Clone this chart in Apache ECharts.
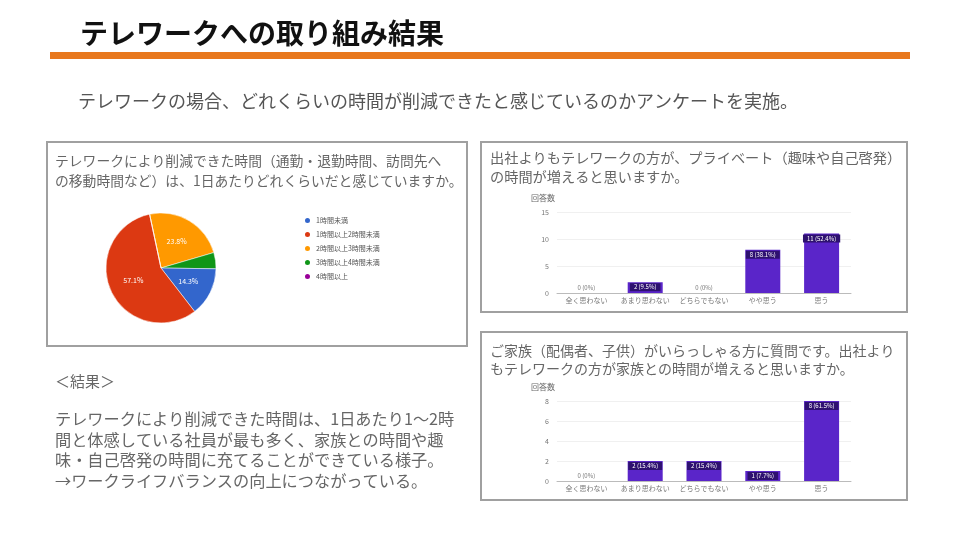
<!DOCTYPE html>
<html>
<head>
<meta charset="utf-8">
<script src="https://cdn.jsdelivr.net/npm/echarts@6/dist/echarts.min.js"></script>
<style>
html,body{margin:0;padding:0;background:#fff;}
#c{width:960px;height:540px;}
</style>
</head>
<body>
<div id="c"></div>
<script>
// ---- data ----
const pieCategories = ['1時間未満', '1時間以上2時間未満', '2時間以上3時間未満', '3時間以上4時間未満', '4時間以上'];
const pieValues = [3, 12, 5, 1, 0];
const pieColors = ['#3366cc', '#dc3912', '#ff9900', '#109618', '#990099'];
const pieDrawOrder = [2, 3, 0, 1, 4];

const barCategories = ['全く思わない', 'あまり思わない', 'どちらでもない', 'やや思う', '思う'];
const privateValues = [0, 2, 0, 8, 11];
const familyValues = [0, 2, 2, 1, 8];
const privateTicks = [0, 5, 10, 15];
const familyTicks = [0, 2, 4, 6, 8];

const titleText = 'テレワークへの取り組み結果';
const subText = 'テレワークの場合、どれくらいの時間が削減できたと感じているのかアンケートを実施。';
const pieTitle = ['テレワークにより削減できた時間（通勤・退勤時間、訪問先へ', 'の移動時間など）は、1日あたりどれくらいだと感じていますか。'];
const bar1Title = ['出社よりもテレワークの方が、プライベート（趣味や自己啓発）', 'の時間が増えると思いますか。'];
const bar2Title = ['ご家族（配偶者、子供）がいらっしゃる方に質問です。出社より', 'もテレワークの方が家族との時間が増えると思いますか。'];
const resultHead = '＜結果＞';
const resultLines = ['テレワークにより削減できた時間は、1日あたり1～2時', '間と体感している社員が最も多く、家族との時間や趣', '味・自己啓発の時間に充てることができている様子。', '→ワークライフバランスの向上につながっている。'];

const FONT = '"Noto Sans CJK JP", "Noto Sans", sans-serif';
const BAR = '#5a25c9';

function barData(vals) {
  const total = vals.reduce((a, b) => a + b, 0);
  return vals.map(v => {
    const pct = total ? (v / total * 100) : 0;
    const txt = v + ' (' + (v === 0 ? '0' : pct.toFixed(1)) + '%)';
    if (v > 0) {
      return { value: v, label: { show: true, position: 'insideTop', distance: 1, formatter: txt, color: '#fff', fontSize: 6, backgroundColor: '#2e1170', padding: [1, 4] } };
    }
    return { value: v, label: { show: true, position: 'top', distance: 2, formatter: txt, color: '#777', fontSize: 6 } };
  });
}

const pieData = pieDrawOrder.map(i => ({
  name: pieCategories[i],
  value: pieValues[i],
  itemStyle: { color: pieColors[i] }
}));

function textEl(x, y, str, size, color, weight) {
  return { type: 'text', left: x, top: y, style: { text: str, font: (weight || 'normal') + ' ' + size + 'px ' + FONT, fill: color } };
}

const graphics = [
  textEl(80, 19, titleText, 28, '#111', 'bold'),
  { type: 'rect', shape: { x: 50, y: 52, width: 860, height: 7 }, style: { fill: '#e8781e' } },
  textEl(78, 92, subText, 18, '#555'),
  { type: 'rect', shape: { x: 47, y: 142, width: 420, height: 204 }, style: { fill: 'none', stroke: '#a0a0a0', lineWidth: 2 } },
  { type: 'rect', shape: { x: 481, y: 142, width: 426, height: 170 }, style: { fill: 'none', stroke: '#a0a0a0', lineWidth: 2 } },
  { type: 'rect', shape: { x: 481, y: 332, width: 426, height: 168 }, style: { fill: 'none', stroke: '#a0a0a0', lineWidth: 2 } },
  textEl(55, 154, pieTitle[0], 13.8, '#666'),
  textEl(55, 174, pieTitle[1], 13.8, '#666'),
  textEl(490, 151, bar1Title[0], 14.2, '#666'),
  textEl(490, 170, bar1Title[1], 14.2, '#666'),
  textEl(490, 344, bar2Title[0], 14, '#666'),
  textEl(490, 362, bar2Title[1], 14, '#666'),
  textEl(55, 374, resultHead, 15, '#666')
];
resultLines.forEach((l, i) => graphics.push(textEl(55, 411 + i * 20.5, l, 16.2, '#666')));

const axisCommon = {
  axisTick: { show: false }
};

const option = {
  animation: false,
  textStyle: { fontFamily: FONT },
  graphic: graphics,
  legend: {
    data: pieCategories,
    orient: 'vertical',
    left: 298, top: 211,
    icon: 'circle', itemWidth: 7, itemHeight: 7, itemGap: 5,
    textStyle: { fontSize: 7, color: '#555' }
  },
  grid: [
    { left: 557, width: 294, top: 212, height: 81 },
    { left: 557, width: 294, top: 401, height: 80 }
  ],
  xAxis: [
    Object.assign({ type: 'category', gridIndex: 0, data: barCategories, axisLine: { lineStyle: { color: '#bbb' } },
      axisLabel: { fontSize: 7, color: '#777', interval: 0, margin: 4 } }, axisCommon),
    Object.assign({ type: 'category', gridIndex: 1, data: barCategories, axisLine: { lineStyle: { color: '#bbb' } },
      axisLabel: { fontSize: 7, color: '#777', interval: 0, margin: 4 } }, axisCommon)
  ],
  yAxis: [
    Object.assign({ type: 'value', gridIndex: 0, min: privateTicks[0], max: privateTicks[privateTicks.length - 1], interval: privateTicks[1] - privateTicks[0],
      name: '回答数', nameGap: 10, nameTextStyle: { fontSize: 8, color: '#666', align: 'right', padding: [0, 2, 0, 0] },
      axisLabel: { fontSize: 7, color: '#777' },
      splitLine: { lineStyle: { color: '#f0f0f0' } }, axisLine: { show: false } }, axisCommon),
    Object.assign({ type: 'value', gridIndex: 1, min: familyTicks[0], max: familyTicks[familyTicks.length - 1], interval: familyTicks[1] - familyTicks[0],
      name: '回答数', nameGap: 10, nameTextStyle: { fontSize: 8, color: '#666', align: 'right', padding: [0, 2, 0, 0] },
      axisLabel: { fontSize: 7, color: '#777' },
      splitLine: { lineStyle: { color: '#f0f0f0' } }, axisLine: { show: false } }, axisCommon)
  ],
  series: [
    {
      type: 'pie', center: [161, 268], radius: 55, startAngle: 102, clockwise: true,
      data: pieData,
      itemStyle: { borderColor: '#fff', borderWidth: 0.5 },
      label: {
        position: 'inside', fontSize: 7, color: '#fff',
        formatter: p => (p.percent >= 10 ? p.percent.toFixed(1) + '%' : '')
      },
      labelLine: { show: false }
    },
    { type: 'bar', xAxisIndex: 0, yAxisIndex: 0, barWidth: 35, data: barData(privateValues), itemStyle: { color: BAR } },
    { type: 'bar', xAxisIndex: 1, yAxisIndex: 1, barWidth: 35, data: barData(familyValues), itemStyle: { color: BAR } }
  ]
};

const chart = echarts.init(document.getElementById('c'), null, { renderer: 'canvas' });
chart.setOption(option);
</script>
</body>
</html>
